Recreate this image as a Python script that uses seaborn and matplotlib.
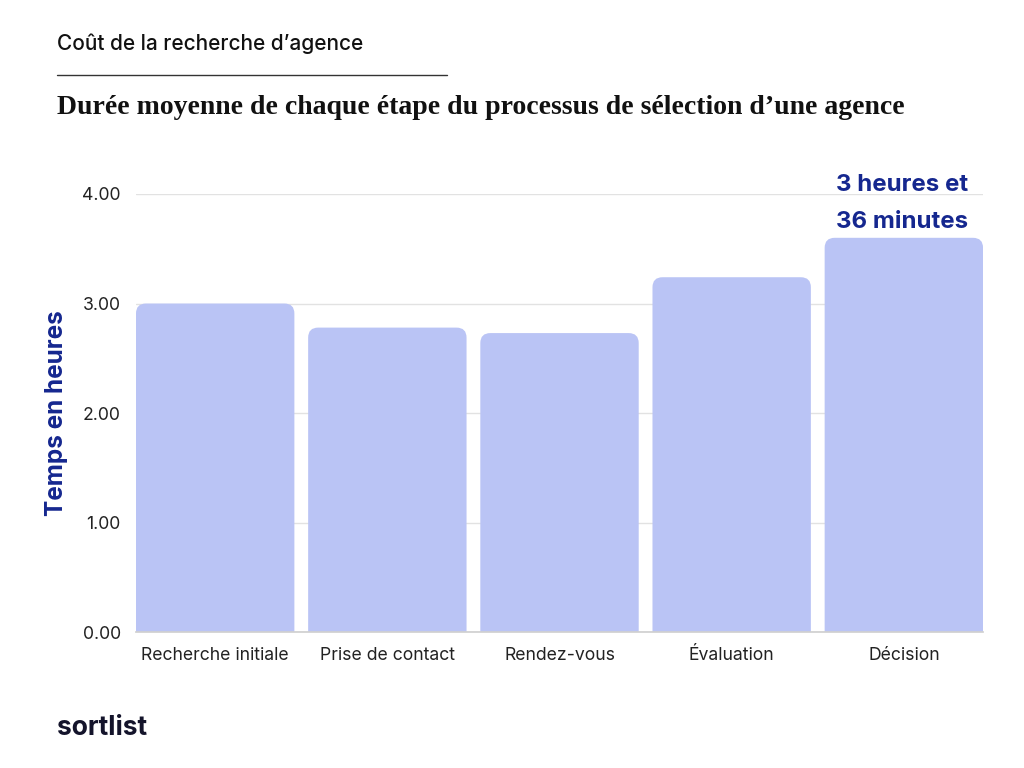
import matplotlib
matplotlib.use("Agg")
import matplotlib.pyplot as plt
from matplotlib.patches import FancyBboxPatch
import seaborn as sns
import pandas as pd

sns.set_theme(style="white")
plt.rcParams['font.family'] = ['Inter', 'DejaVu Sans']

# data
etapes = ['Recherche initiale', 'Prise de contact', 'Rendez-vous', 'Évaluation', 'Décision']
heures = [3.00, 2.78, 2.73, 3.24, 3.60]
yticks = [0, 1, 2, 3, 4]

df = pd.DataFrame({'etape': etapes, 'heures': heures})

bar_color = '#BAC4F5'
navy = '#15278F'

fig = plt.figure(figsize=(10.24, 7.68), dpi=100)
ax = fig.add_axes([0.1328, 0.177, 0.9600 - 0.1328, 0.7474 - 0.177])

sns.barplot(data=df, x='etape', y='heures', color=bar_color, width=0.92, ax=ax, saturation=1)

ax.set_xlim(-0.46, len(etapes) - 1 + 0.46)
ax.set_ylim(0, 4.0)

# swap plain bars for ones with rounded top corners
x_px = ax.get_window_extent().width / (ax.get_xlim()[1] - ax.get_xlim()[0])
y_px = ax.get_window_extent().height / (ax.get_ylim()[1] - ax.get_ylim()[0])
rad = 10 / x_px
for p in list(ax.patches):
    x0, w, h = p.get_x(), p.get_width(), p.get_height()
    p.remove()
    rb = FancyBboxPatch((x0, -0.2), w, h + 0.2,
                        boxstyle=f"round,pad=0,rounding_size={rad}",
                        mutation_aspect=x_px / y_px,
                        facecolor=bar_color, edgecolor='none', zorder=2)
    ax.add_patch(rb)

ax.set_yticks(yticks)
ax.set_yticklabels([f"{v:.2f}" for v in yticks])
ax.yaxis.grid(True, color='#E2E2E2', linewidth=1)
ax.set_axisbelow(True)
for s in ['top', 'right', 'left']:
    ax.spines[s].set_visible(False)
ax.spines['bottom'].set_color('#D0D0D0')
ax.tick_params(axis='both', length=0, labelsize=12.7, colors='#222222')
ax.tick_params(axis='x', pad=11)
ax.tick_params(axis='y', pad=11)
ax.set_xlabel('')
ax.set_ylabel('Temps en heures', fontsize=17.5, fontweight='bold', color=navy, labelpad=10)

# annotation above the last bar
ax.text(3.99, heures[4] + 0.045, '3 heures et\n36 minutes', ha='center', va='bottom',
        fontsize=17.3, fontweight='bold', color=navy, linespacing=1.85, clip_on=False)

# header
fig.text(57 / 1024, 1 - 44 / 768, "Coût de la recherche d’agence", fontsize=15,
         fontweight='medium', color='#111111', va='center', ha='left')
fig.add_artist(plt.Line2D([57 / 1024, 447 / 1024], [1 - 75 / 768, 1 - 75 / 768],
                          color='#333333', linewidth=1))
fig.text(57 / 1024, 1 - 108 / 768,
         "Durée moyenne de chaque étape du processus de sélection d’une agence",
         fontsize=20, fontweight='bold', family=['Liberation Serif', 'DejaVu Serif'],
         color='#111111', va='center', ha='left')

# logo
fig.text(57 / 1024, 1 - 728 / 768, 'sortlist', fontsize=19, fontweight='bold',
         color='#14142B', va='center', ha='left')

fig.savefig('out.png', dpi=100)
